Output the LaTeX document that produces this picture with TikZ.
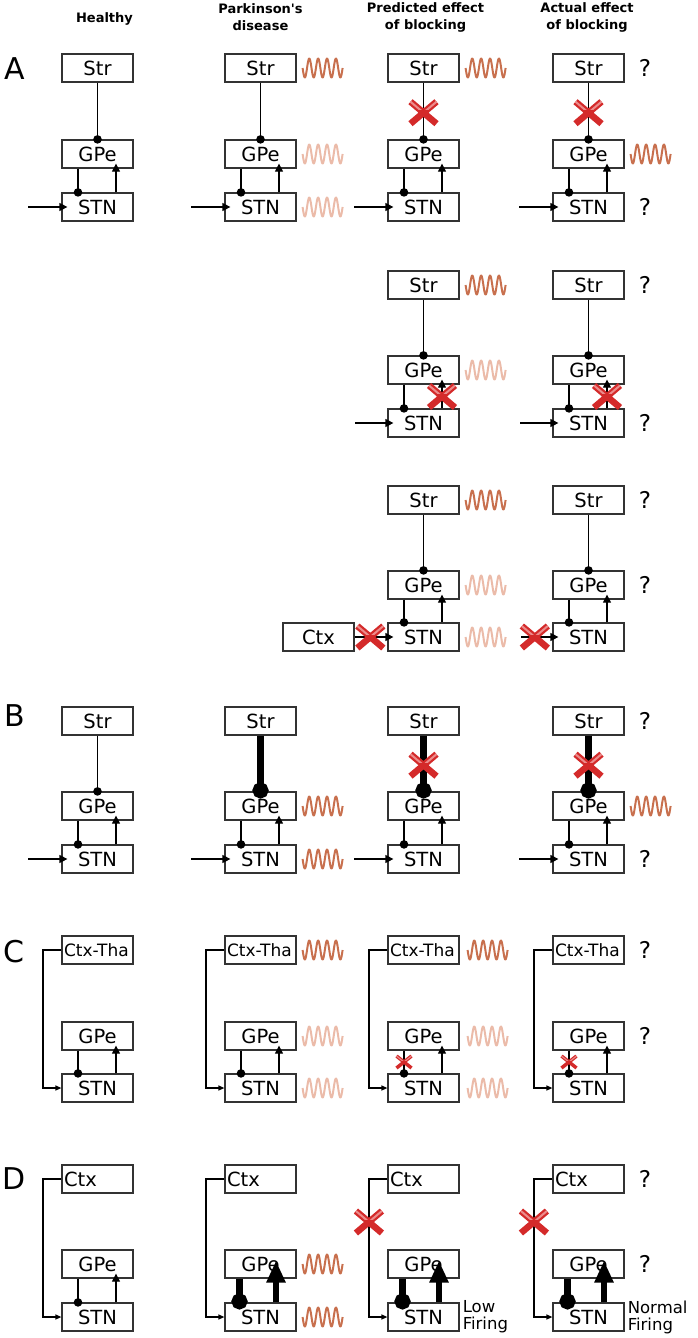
\documentclass[tikz,border=0pt]{standalone}
\usepackage{fontspec}
\setmainfont{DejaVu Sans}
\usetikzlibrary{arrows.meta,positioning,calc}

\definecolor{boxgray}{HTML}{333333}
\definecolor{wdark}{HTML}{C8704E}
\definecolor{wlight}{HTML}{EBBBA9}
\definecolor{xred}{HTML}{D42A2A}
\definecolor{xpink}{HTML}{EC8C8C}

\tikzset{
  region/.style={draw=boxgray, fill=white, line width=1.2, minimum width=71, minimum height=28, inner sep=0, font=\fontsize{19.5}{20}\selectfont},
  leftregion/.style={region, text width=67, inner xsep=2, align=left},
  smallregion/.style={leftregion, font=\fontsize{17}{18}\selectfont},
  header/.style={font=\bfseries\fontsize{13}{17}\selectfont, align=center},
  panel/.style={font=\fontsize{30}{31}\selectfont},
  qmark/.style={font=\fontsize{23}{24}\selectfont, inner sep=0},
  firing/.style={font=\fontsize{16.5}{17}\selectfont, align=left, inner sep=0},
  inh/.style={line width=1.2, -{Circle[length=8.5pt]}, shorten >=-4.25pt},
  exc/.style={line width=1.2, -{Triangle[length=8pt,width=8pt]}, shorten >=-5pt},
  inarrow/.style={exc, shorten >=-6pt},
  loopline/.style={line width=1.2, -{Triangle[length=6pt,width=5pt]}},
  thickinh/.style={line width=7, -{Circle[length=16pt]}, shorten >=-7pt},
  thickexc/.style={line width=6.5, -{Triangle[length=22pt,width=18pt]}, shorten >=-18pt},
  pics/osc/.style={code={
    \draw[#1, line width=2, line join=round] plot[domain=0:40, samples=120] (\x, {9.5*sin(40.5*\x)});
  }},
  pics/nox/.style={code={
    \draw[xred, line width=6.5] (-13,-11) -- (13,11) (-13,11) -- (13,-11);
    \begin{scope}
      \clip (-16,-15) rectangle (16,-3);
      \draw[xpink, line width=2] (-13,-11) -- (13,11) (-13,11) -- (13,-11);
    \end{scope}
  }},
  pics/smallnox/.style={code={
    \draw[xred, line width=3.5] (-7.5,-6) -- (7.5,6) (-7.5,6) -- (7.5,-6);
    \begin{scope}
      \clip (-9,-8) rectangle (9,-1.5);
      \draw[xpink, line width=1.1] (-7.5,-6) -- (7.5,6) (-7.5,6) -- (7.5,-6);
    \end{scope}
  }},
}

\begin{document}
\begin{tikzpicture}[x=1pt, y=-1pt]
\useasboundingbox (0,0) rectangle (698,1338);

% column titles
\node[header] (hHealthy) at (104.5,19) {Healthy};
\node[header] (hPD) at (260.5,17.5) {Parkinson\textquotesingle s\\disease};
\node[header] (hPred) at (425.5,17.5) {Predicted effect\\of blocking};
\node[header] (hAct) at (587,17.5) {Actual effect\\of blocking};

% panel letters
\node[panel] (pA) at (15,69) {A};
\node[panel] (pB) at (15,716) {B};
\node[panel] (pC) at (14,952) {C};
\node[panel] (pD) at (14,1179) {D};

% ---- A, first row
\node[region] (strA1-1) at (97.5,68) {Str};
\node[region] (gpeA1-1) at (97.5,154) {GPe};
\node[region] (stnA1-1) at (97.5,207) {STN};
\coordinate (inA1-1) at (28,207);
\node[region] (strA1-2) at (260.5,68) {Str};
\node[region] (gpeA1-2) at (260.5,154) {GPe};
\node[region] (stnA1-2) at (260.5,207) {STN};
\coordinate (inA1-2) at (191,207);
\node[region] (strA1-3) at (423.5,68) {Str};
\node[region] (gpeA1-3) at (423.5,154) {GPe};
\node[region] (stnA1-3) at (423.5,207) {STN};
\coordinate (inA1-3) at (354,207);
\node[region] (strA1-4) at (588.5,68) {Str};
\node[region] (gpeA1-4) at (588.5,154) {GPe};
\node[region] (stnA1-4) at (588.5,207) {STN};
\coordinate (inA1-4) at (519,207);

\draw[inh] (strA1-1.south) -- (gpeA1-1.north);
\draw[inh] ([xshift=-19.5]gpeA1-1.south) -- ([xshift=-19.5]stnA1-1.north);
\draw[exc] ([xshift=18.5]stnA1-1.north) -- ([xshift=18.5]gpeA1-1.south);
\draw[inarrow] (inA1-1) -- (stnA1-1.west);
\draw[inh] (strA1-2.south) -- (gpeA1-2.north);
\draw[inh] ([xshift=-19.5]gpeA1-2.south) -- ([xshift=-19.5]stnA1-2.north);
\draw[exc] ([xshift=18.5]stnA1-2.north) -- ([xshift=18.5]gpeA1-2.south);
\draw[inarrow] (inA1-2) -- (stnA1-2.west);
\draw[inh] (strA1-3.south) -- (gpeA1-3.north);
\draw[inh] ([xshift=-19.5]gpeA1-3.south) -- ([xshift=-19.5]stnA1-3.north);
\draw[exc] ([xshift=18.5]stnA1-3.north) -- ([xshift=18.5]gpeA1-3.south);
\draw[inarrow] (inA1-3) -- (stnA1-3.west);
\draw[inh] (strA1-4.south) -- (gpeA1-4.north);
\draw[inh] ([xshift=-19.5]gpeA1-4.south) -- ([xshift=-19.5]stnA1-4.north);
\draw[exc] ([xshift=18.5]stnA1-4.north) -- ([xshift=18.5]gpeA1-4.south);
\draw[inarrow] (inA1-4) -- (stnA1-4.west);

\pic at ($(strA1-3.south)!0.53!(gpeA1-3.north)$) {nox};
\pic at ($(strA1-4.south)!0.53!(gpeA1-4.north)$) {nox};

\pic at ([xshift=6]strA1-2.east) {osc=wdark};
\pic at ([xshift=6]gpeA1-2.east) {osc=wlight};
\pic at ([xshift=6]stnA1-2.east) {osc=wlight};
\pic at ([xshift=6]strA1-3.east) {osc=wdark};
\pic at ([xshift=6]gpeA1-4.east) {osc=wdark};
\node[qmark, right=14pt of strA1-4] (qstrA1-4) {?};
\node[qmark, right=14pt of stnA1-4] (qstnA1-4) {?};

% ---- A, second row
\node[region] (strA2-3) at (423.5,285) {Str};
\node[region] (gpeA2-3) at (423.5,370) {GPe};
\node[region] (stnA2-3) at (423.5,423) {STN};
\coordinate (inA2-3) at (355,423);
\node[region] (strA2-4) at (588.5,285) {Str};
\node[region] (gpeA2-4) at (588.5,370) {GPe};
\node[region] (stnA2-4) at (588.5,423) {STN};
\coordinate (inA2-4) at (520,423);

\draw[inh] (strA2-3.south) -- (gpeA2-3.north);
\draw[inh] ([xshift=-19.5]gpeA2-3.south) -- ([xshift=-19.5]stnA2-3.north);
\draw[exc] ([xshift=18.5]stnA2-3.north) -- ([xshift=18.5]gpeA2-3.south);
\draw[inarrow] (inA2-3) -- (stnA2-3.west);
\draw[inh] (strA2-4.south) -- (gpeA2-4.north);
\draw[inh] ([xshift=-19.5]gpeA2-4.south) -- ([xshift=-19.5]stnA2-4.north);
\draw[exc] ([xshift=18.5]stnA2-4.north) -- ([xshift=18.5]gpeA2-4.south);
\draw[inarrow] (inA2-4) -- (stnA2-4.west);

\pic at ($([xshift=18.5]stnA2-3.north)!0.5!([xshift=18.5]gpeA2-3.south)$) {nox};
\pic at ($([xshift=18.5]stnA2-4.north)!0.5!([xshift=18.5]gpeA2-4.south)$) {nox};

\pic at ([xshift=6]strA2-3.east) {osc=wdark};
\pic at ([xshift=6]gpeA2-3.east) {osc=wlight};
\node[qmark, right=14pt of strA2-4] (qstrA2-4) {?};
\node[qmark, right=14pt of stnA2-4] (qstnA2-4) {?};

% ---- A, third row
\node[region] (ctxA3-3) at (318.5,637) {Ctx};
\node[region] (strA3-3) at (423.5,500) {Str};
\node[region] (gpeA3-3) at (423.5,585) {GPe};
\node[region] (stnA3-3) at (423.5,637) {STN};
\node[region] (strA3-4) at (588.5,500) {Str};
\node[region] (gpeA3-4) at (588.5,585) {GPe};
\node[region] (stnA3-4) at (588.5,637) {STN};
\coordinate (inA3-4) at (521,637);

\draw[inh] (strA3-3.south) -- (gpeA3-3.north);
\draw[inh] ([xshift=-19.5]gpeA3-3.south) -- ([xshift=-19.5]stnA3-3.north);
\draw[exc] ([xshift=18.5]stnA3-3.north) -- ([xshift=18.5]gpeA3-3.south);
\draw[inarrow] (ctxA3-3.east) -- (stnA3-3.west);
\draw[inh] (strA3-4.south) -- (gpeA3-4.north);
\draw[inh] ([xshift=-19.5]gpeA3-4.south) -- ([xshift=-19.5]stnA3-4.north);
\draw[exc] ([xshift=18.5]stnA3-4.north) -- ([xshift=18.5]gpeA3-4.south);
\draw[inarrow] (inA3-4) -- (stnA3-4.west);

\pic at ($(ctxA3-3.east)!0.48!(stnA3-3.west)$) {nox};
\pic at ($(inA3-4)!0.44!(stnA3-4.west)$) {nox};

\pic at ([xshift=6]strA3-3.east) {osc=wdark};
\pic at ([xshift=6]gpeA3-3.east) {osc=wlight};
\pic at ([xshift=6]stnA3-3.east) {osc=wlight};
\node[qmark, right=14pt of strA3-4] (qstrA3-4) {?};
\node[qmark, right=14pt of gpeA3-4] (qgpeA3-4) {?};

% ---- B
\node[region] (strB-1) at (97.5,721) {Str};
\node[region] (gpeB-1) at (97.5,806) {GPe};
\node[region] (stnB-1) at (97.5,859) {STN};
\coordinate (inB-1) at (28,859);
\node[region] (strB-2) at (260.5,721) {Str};
\node[region] (gpeB-2) at (260.5,806) {GPe};
\node[region] (stnB-2) at (260.5,859) {STN};
\coordinate (inB-2) at (191,859);
\node[region] (strB-3) at (423.5,721) {Str};
\node[region] (gpeB-3) at (423.5,806) {GPe};
\node[region] (stnB-3) at (423.5,859) {STN};
\coordinate (inB-3) at (354,859);
\node[region] (strB-4) at (588.5,721) {Str};
\node[region] (gpeB-4) at (588.5,806) {GPe};
\node[region] (stnB-4) at (588.5,859) {STN};
\coordinate (inB-4) at (519,859);

\draw[inh] (strB-1.south) -- (gpeB-1.north);
\draw[inh] ([xshift=-19.5]gpeB-1.south) -- ([xshift=-19.5]stnB-1.north);
\draw[exc] ([xshift=18.5]stnB-1.north) -- ([xshift=18.5]gpeB-1.south);
\draw[inarrow] (inB-1) -- (stnB-1.west);
\draw[thickinh] (strB-2.south) -- (gpeB-2.north);
\draw[inh] ([xshift=-19.5]gpeB-2.south) -- ([xshift=-19.5]stnB-2.north);
\draw[exc] ([xshift=18.5]stnB-2.north) -- ([xshift=18.5]gpeB-2.south);
\draw[inarrow] (inB-2) -- (stnB-2.west);
\draw[thickinh] (strB-3.south) -- (gpeB-3.north);
\draw[inh] ([xshift=-19.5]gpeB-3.south) -- ([xshift=-19.5]stnB-3.north);
\draw[exc] ([xshift=18.5]stnB-3.north) -- ([xshift=18.5]gpeB-3.south);
\draw[inarrow] (inB-3) -- (stnB-3.west);
\draw[thickinh] (strB-4.south) -- (gpeB-4.north);
\draw[inh] ([xshift=-19.5]gpeB-4.south) -- ([xshift=-19.5]stnB-4.north);
\draw[exc] ([xshift=18.5]stnB-4.north) -- ([xshift=18.5]gpeB-4.south);
\draw[inarrow] (inB-4) -- (stnB-4.west);

\pic at ($(strB-3.south)!0.53!(gpeB-3.north)$) {nox};
\pic at ($(strB-4.south)!0.53!(gpeB-4.north)$) {nox};

\pic at ([xshift=6]gpeB-2.east) {osc=wdark};
\pic at ([xshift=6]stnB-2.east) {osc=wdark};
\pic at ([xshift=6]gpeB-4.east) {osc=wdark};
\node[qmark, right=14pt of strB-4] (qstrB-4) {?};
\node[qmark, right=14pt of stnB-4] (qstnB-4) {?};

% ---- C
\node[smallregion] (ctxC-1) at (97.5,950) {Ctx-Tha};
\node[region] (gpeC-1) at (97.5,1036) {GPe};
\node[region] (stnC-1) at (97.5,1088) {STN};
\node[smallregion] (ctxC-2) at (260.5,950) {Ctx-Tha};
\node[region] (gpeC-2) at (260.5,1036) {GPe};
\node[region] (stnC-2) at (260.5,1088) {STN};
\node[smallregion] (ctxC-3) at (423.5,950) {Ctx-Tha};
\node[region] (gpeC-3) at (423.5,1036) {GPe};
\node[region] (stnC-3) at (423.5,1088) {STN};
\node[smallregion] (ctxC-4) at (588.5,950) {Ctx-Tha};
\node[region] (gpeC-4) at (588.5,1036) {GPe};
\node[region] (stnC-4) at (588.5,1088) {STN};

\draw[loopline] (ctxC-1.west) -- ++(-18.5,0) |- (stnC-1.west);
\draw[inh] ([xshift=-19.5]gpeC-1.south) -- ([xshift=-19.5]stnC-1.north);
\draw[exc] ([xshift=18.5]stnC-1.north) -- ([xshift=18.5]gpeC-1.south);
\draw[loopline] (ctxC-2.west) -- ++(-18.5,0) |- (stnC-2.west);
\draw[inh] ([xshift=-19.5]gpeC-2.south) -- ([xshift=-19.5]stnC-2.north);
\draw[exc] ([xshift=18.5]stnC-2.north) -- ([xshift=18.5]gpeC-2.south);
\draw[loopline] (ctxC-3.west) -- ++(-18.5,0) |- (stnC-3.west);
\draw[inh] ([xshift=-19.5]gpeC-3.south) -- ([xshift=-19.5]stnC-3.north);
\draw[exc] ([xshift=18.5]stnC-3.north) -- ([xshift=18.5]gpeC-3.south);
\draw[loopline] (ctxC-4.west) -- ++(-18.5,0) |- (stnC-4.west);
\draw[inh] ([xshift=-19.5]gpeC-4.south) -- ([xshift=-19.5]stnC-4.north);
\draw[exc] ([xshift=18.5]stnC-4.north) -- ([xshift=18.5]gpeC-4.south);

\pic at ($([xshift=-19.5]gpeC-3.south)!0.5!([xshift=-19.5]stnC-3.north)$) {smallnox};
\pic at ($([xshift=-19.5]gpeC-4.south)!0.5!([xshift=-19.5]stnC-4.north)$) {smallnox};

\pic at ([xshift=6]ctxC-2.east) {osc=wdark};
\pic at ([xshift=6]gpeC-2.east) {osc=wlight};
\pic at ([xshift=6]stnC-2.east) {osc=wlight};
\pic at ([xshift=8]ctxC-3.east) {osc=wdark};
\pic at ([xshift=8]gpeC-3.east) {osc=wlight};
\pic at ([xshift=8]stnC-3.east) {osc=wlight};
\node[qmark, right=14pt of ctxC-4] (qctxC-4) {?};
\node[qmark, right=14pt of gpeC-4] (qgpeC-4) {?};

% ---- D
\node[leftregion] (ctxD-1) at (97.5,1179) {Ctx};
\node[region] (gpeD-1) at (97.5,1264) {GPe};
\node[region] (stnD-1) at (97.5,1317) {STN};
\node[leftregion] (ctxD-2) at (260.5,1179) {Ctx};
\node[region] (gpeD-2) at (260.5,1264) {GPe};
\node[region] (stnD-2) at (260.5,1317) {STN};
\node[leftregion] (ctxD-3) at (423.5,1179) {Ctx};
\node[region] (gpeD-3) at (423.5,1264) {GPe};
\node[region] (stnD-3) at (423.5,1317) {STN};
\node[leftregion] (ctxD-4) at (588.5,1179) {Ctx};
\node[region] (gpeD-4) at (588.5,1264) {GPe};
\node[region] (stnD-4) at (588.5,1317) {STN};

\draw[loopline] (ctxD-1.west) -- ++(-18.5,0) |- (stnD-1.west);
\draw[inh] ([xshift=-19.5]gpeD-1.south) -- ([xshift=-19.5]stnD-1.north);
\draw[exc] ([xshift=18.5]stnD-1.north) -- ([xshift=18.5]gpeD-1.south);
\draw[loopline] (ctxD-2.west) -- ++(-18.5,0) |- (stnD-2.west);
\draw[thickinh] ([xshift=-21]gpeD-2.south) -- ([xshift=-21]stnD-2.north);
\draw[thickexc] ([xshift=15.5]stnD-2.north) -- ([xshift=15.5]gpeD-2.south);
\draw[loopline] (ctxD-3.west) -- ++(-18.5,0) |- (stnD-3.west);
\draw[thickinh] ([xshift=-21]gpeD-3.south) -- ([xshift=-21]stnD-3.north);
\draw[thickexc] ([xshift=15.5]stnD-3.north) -- ([xshift=15.5]gpeD-3.south);
\draw[loopline] (ctxD-4.west) -- ++(-18.5,0) |- (stnD-4.west);
\draw[thickinh] ([xshift=-21]gpeD-4.south) -- ([xshift=-21]stnD-4.north);
\draw[thickexc] ([xshift=15.5]stnD-4.north) -- ([xshift=15.5]gpeD-4.south);

\pic at ($(ctxD-3.west)+(-18.5,43)$) {nox};
\pic at ($(ctxD-4.west)+(-18.5,43)$) {nox};

\pic at ([xshift=6]gpeD-2.east) {osc=wdark};
\pic at ([xshift=6]stnD-2.east) {osc=wdark};
\node[firing, right=3pt of stnD-3] (lowD-3) {Low\\Firing};
\node[firing, right=3pt of stnD-4] (normD-4) {Normal\\Firing};
\node[qmark, right=14pt of ctxD-4] (qctxD-4) {?};
\node[qmark, right=14pt of gpeD-4] (qgpeD-4) {?};
\end{tikzpicture}
\end{document}
